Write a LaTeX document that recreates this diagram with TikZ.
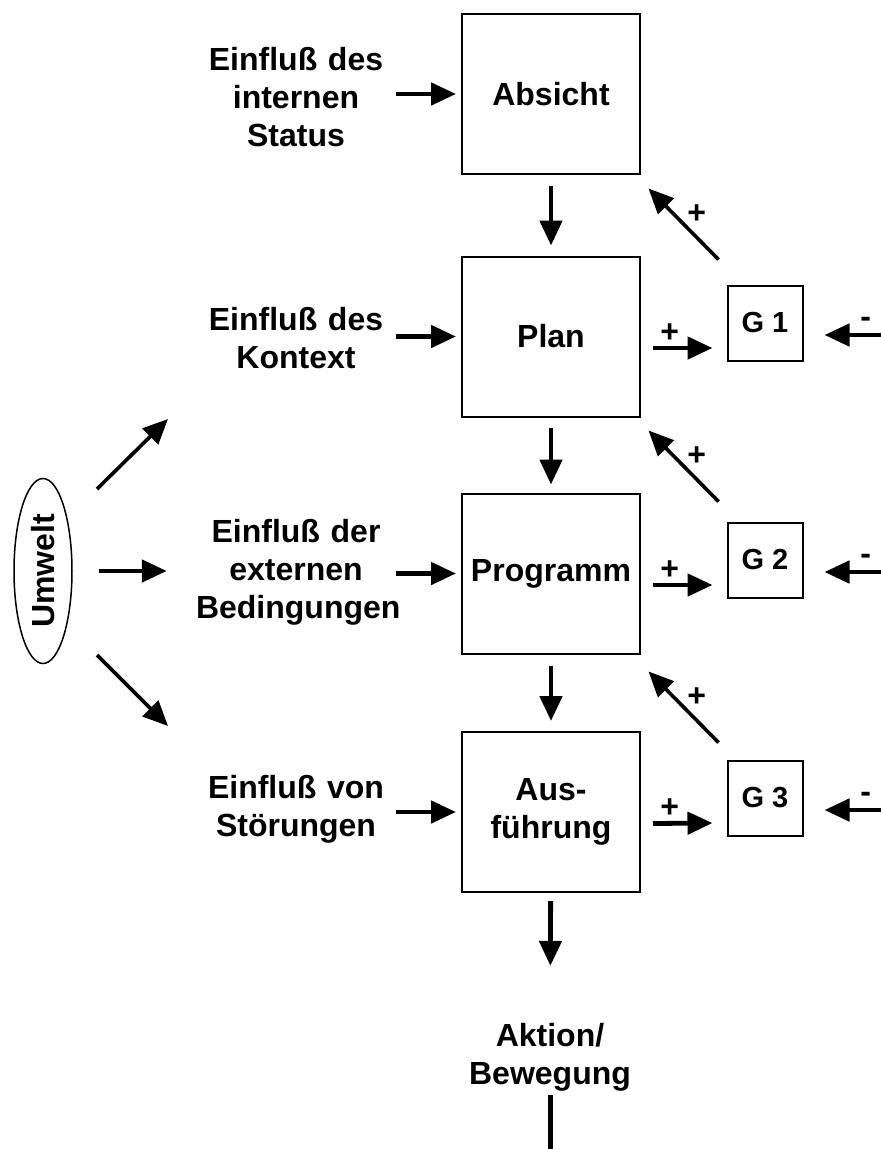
\documentclass[tikz,border=0pt]{standalone}
\usepackage{fontspec}
\setmainfont{Liberation Sans}
\usetikzlibrary{arrows.meta,shapes.geometric}

\tikzset{
  box/.style={draw, line width=2pt, minimum width=178pt, minimum height=160pt, inner sep=2pt, align=center},
  gbox/.style={draw, line width=2pt, minimum size=75pt, inner sep=2pt, font=\fontsize{29}{34}\selectfont\bfseries},
  influx/.style={text width=200pt, inner sep=0pt, align=center},
  arr/.style={-{Triangle[length=25pt,width=22pt]}, line width=4.8pt},
  darr/.style={-{Triangle[length=25pt,width=22pt]}, line width=3.6pt},
  sign/.style={inner sep=0pt}
}

\begin{document}
\begin{tikzpicture}[x=1pt, y=-1pt, every node/.style={font=\fontsize{32}{38}\selectfont\bfseries}]
\useasboundingbox (0,0) rectangle (881,1149);

% main chain
\node[box] (absicht) at (551,94) {Absicht};
\node[box] (plan) at (551,336.5) {Plan};
\node[box] (programm) at (551,573.5) {Programm};
\node[box] (ausf) at (551,812) {Aus-\\führung};
\node[align=center, inner sep=0pt] (aktion) at (550,1057) {Aktion/\\Bewegung};
\coordinate (bottom) at (550,1149);

\draw[arr, shorten <=11pt, shorten >=10pt] (absicht) -- (plan);
\draw[arr, shorten <=10pt, shorten >=8pt] (plan) -- (programm);
\draw[arr, shorten <=11pt, shorten >=10pt] (programm) -- (ausf);
\draw[arr, shorten <=8pt, shorten >=57pt] (ausf) -- (aktion);
\draw[line width=5pt, shorten <=4pt] (aktion) -- (bottom);

% influences from the left
\node[influx] (status) at (296,97) {Einfluß des\\internen\\Status};
\node[influx] (kontext) at (296,338) {Einfluß des\\Kontext};
\node[influx] (bedingungen) at (296,572) {Einfluß der\\externen\\Bedingungen};
\node[influx] (stoerungen) at (296,809) {Einfluß von\\Störungen};

\draw[arr, shorten >=5pt] (status.east |- absicht.west) -- (absicht.west);
\draw[arr, shorten >=5pt] (kontext.east |- plan.west) -- (plan.west);
\draw[arr, shorten >=5pt] (bedingungen.east |- programm.west) -- (programm.west);
\draw[arr, shorten >=5pt] (stoerungen.east |- ausf.west) -- (ausf.west);

% environment
\node[ellipse, draw, line width=1.5pt, minimum width=58pt, minimum height=185pt, inner sep=0pt] (umwelt) at (43,571) {\rotatebox{90}{Umwelt}};
\coordinate (u1a) at (97,489);
\coordinate (u1b) at (168,419);
\coordinate (u3a) at (97,655);
\coordinate (u3b) at (168,726);
\draw[darr] (u1a) -- (u1b);
\draw[arr, shorten <=26pt, shorten >=29pt] (umwelt.east) -- (bedingungen.west |- umwelt.east);
\draw[darr] (u3a) -- (u3b);

% comparators
\node[gbox] (g1) at (765,323) {G 1};
\node[gbox] (g2) at (765,560) {G 2};
\node[gbox] (g3) at (765,798) {G 3};

\foreach \g/\b/\d in {g1/plan/25pt, g2/programm/20pt, g3/ausf/17pt} {
  \draw[arr] ([xshift=12pt, yshift=-11.5pt]\b.east) -- node[sign, pos=0.28, yshift=15pt] {+} ([xshift=-14pt, yshift=-25pt]\g.west);
  \draw[arr] ([xshift=79pt, yshift=-12pt]\g.east) -- node[sign, pos=0.29, yshift=13pt] {-} ([xshift=21pt, yshift=-12pt]\g.east);
  \draw[darr] ([xshift=-8pt, yshift=\d]\g.north west) -- node[sign, pos=0.31, yshift=23pt] {+} ([xshift=-78pt, yshift={\d+71pt}]\g.north west);
}
\end{tikzpicture}
\end{document}
